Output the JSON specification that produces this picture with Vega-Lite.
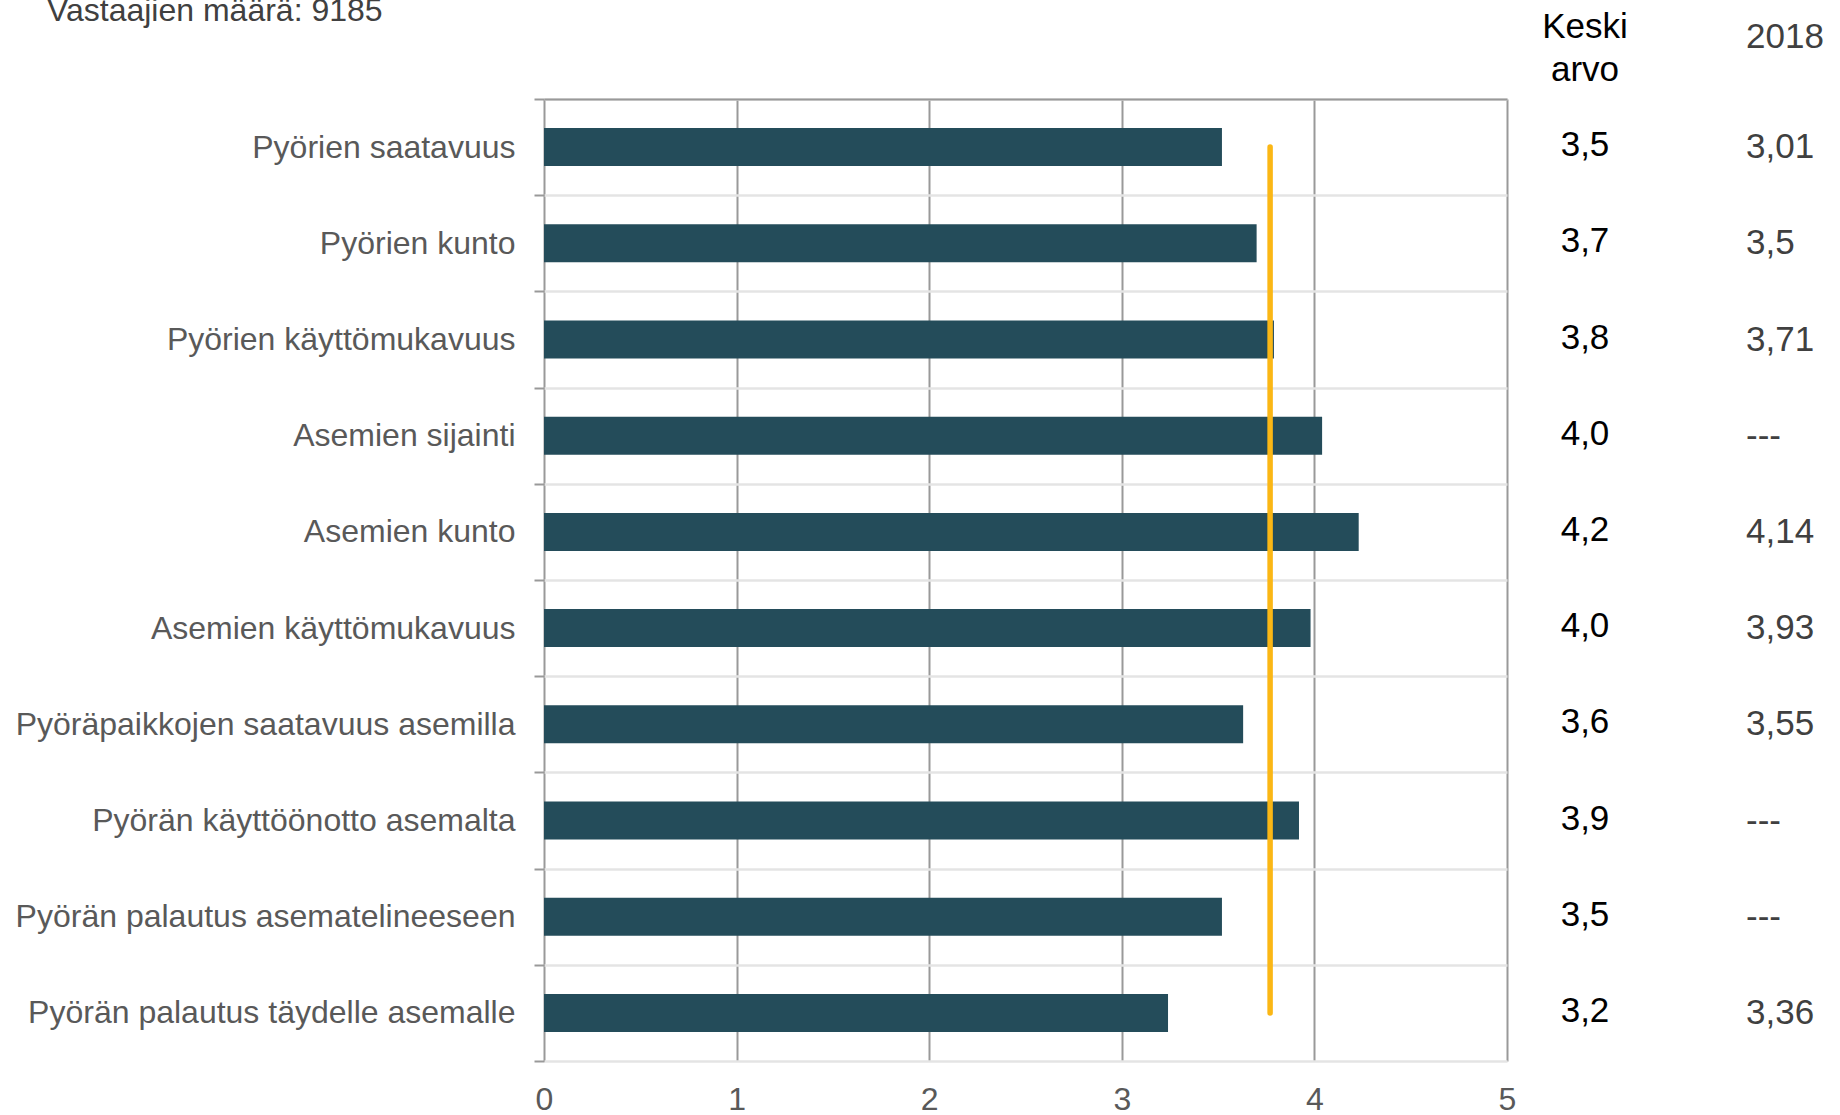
{
  "$schema": "https://vega.github.io/schema/vega-lite/v6.json",
  "padding": {"left": 15, "top": -5, "right": 0, "bottom": 0},
  "background": "white",
  "config": {"view": {"stroke": null}, "font": "Liberation Sans"},
  "bounds": "flush",
  "spacing": 0,
  "data": {"values": [
    {"item": "Pyörien saatavuus", "score": 3.52, "kesk": "3,5", "v2018": "3,01"},
    {"item": "Pyörien kunto", "score": 3.70, "kesk": "3,7", "v2018": "3,5"},
    {"item": "Pyörien käyttömukavuus", "score": 3.79, "kesk": "3,8", "v2018": "3,71"},
    {"item": "Asemien sijainti", "score": 4.04, "kesk": "4,0", "v2018": "---"},
    {"item": "Asemien kunto", "score": 4.23, "kesk": "4,2", "v2018": "4,14"},
    {"item": "Asemien käyttömukavuus", "score": 3.98, "kesk": "4,0", "v2018": "3,93"},
    {"item": "Pyöräpaikkojen saatavuus asemilla", "score": 3.63, "kesk": "3,6", "v2018": "3,55"},
    {"item": "Pyörän käyttöönotto asemalta", "score": 3.92, "kesk": "3,9", "v2018": "---"},
    {"item": "Pyörän palautus asematelineeseen", "score": 3.52, "kesk": "3,5", "v2018": "---"},
    {"item": "Pyörän palautus täydelle asemalle", "score": 3.24, "kesk": "3,2", "v2018": "3,36"}
  ]},
  "hconcat": [
    {
      "width": 963,
      "height": 962,
      "title": {"text": "Vastaajien määrä: 9185", "anchor": "start", "frame": "group", "dx": -497, "offset": 30, "baseline": "alphabetic", "fontSize": 32, "fontWeight": "normal", "color": "#404040", "font": "Liberation Sans"},
      "encoding": {
        "y": {"field": "item", "type": "nominal", "sort": null,
          "scale": {"paddingInner": 0, "paddingOuter": 0},
          "axis": {"title": null, "domain": false, "ticks": true, "tickBand": "extent", "tickColor": "#999999", "tickWidth": 2, "tickSize": 10, "grid": true, "gridColor": "#e4e4e4", "gridWidth": 2.5, "labelFontSize": 32, "labelColor": "#595959", "labelPadding": 19, "labelLimit": 1000, "labelFont": "Liberation Sans"}}
      },
      "resolve": {"scale": {"x": "shared"}, "axis": {"x": "independent"}},
      "layer": [
        {
          "mark": {"type": "bar", "size": 38, "color": "#244C5A"},
          "encoding": {
            "x": {"field": "score", "type": "quantitative", "scale": {"domain": [0, 5], "nice": false},
              "axis": {"orient": "bottom", "title": null, "values": [0, 1, 2, 3, 4, 5], "grid": true, "gridColor": "#999999", "gridWidth": 2, "domain": false, "ticks": false, "labelFlush": false, "labelPadding": 23, "labelFontSize": 32, "labelColor": "#595959", "labelFont": "Liberation Sans", "format": "d"}}
          }
        },
        {
          "data": {"values": [{"item": "Pyörien saatavuus", "item2": "Pyörän palautus täydelle asemalle", "avg": 3.77}]},
          "mark": {"type": "rule", "strokeWidth": 5.5, "strokeCap": "round", "color": "#FBB715"},
          "encoding": {
            "x": {"field": "avg", "type": "quantitative",
              "axis": {"orient": "top", "title": null, "labels": false, "ticks": false, "grid": false, "domain": true, "domainColor": "#999999", "domainWidth": 2, "zindex": 1}},
            "y2": {"field": "item2"}
          }
        }
      ]
    },
    {
      "width": 156,
      "height": 962,
      "title": {"text": ["Keski", "arvo"], "anchor": "middle", "baseline": "alphabetic", "offset": -17, "fontSize": 35, "lineHeight": 43, "fontWeight": "normal", "color": "#000000", "font": "Liberation Sans"},
      "mark": {"type": "text", "fontSize": 35, "color": "#000000", "baseline": "middle", "align": "center", "dy": -2, "font": "Liberation Sans"},
      "encoding": {
        "y": {"field": "item", "type": "nominal", "sort": null, "scale": {"paddingInner": 0, "paddingOuter": 0}, "axis": null},
        "text": {"field": "kesk"}
      }
    },
    {
      "width": 166,
      "height": 962,
      "title": {"text": "2018", "anchor": "middle", "align": "left", "baseline": "alphabetic", "offset": 16, "fontSize": 35, "fontWeight": "normal", "color": "#404040", "font": "Liberation Sans"},
      "mark": {"type": "text", "fontSize": 35, "color": "#404040", "baseline": "middle", "align": "left", "font": "Liberation Sans"},
      "encoding": {
        "y": {"field": "item", "type": "nominal", "sort": null, "scale": {"paddingInner": 0, "paddingOuter": 0}, "axis": null},
        "text": {"field": "v2018"}
      }
    }
  ]
}
